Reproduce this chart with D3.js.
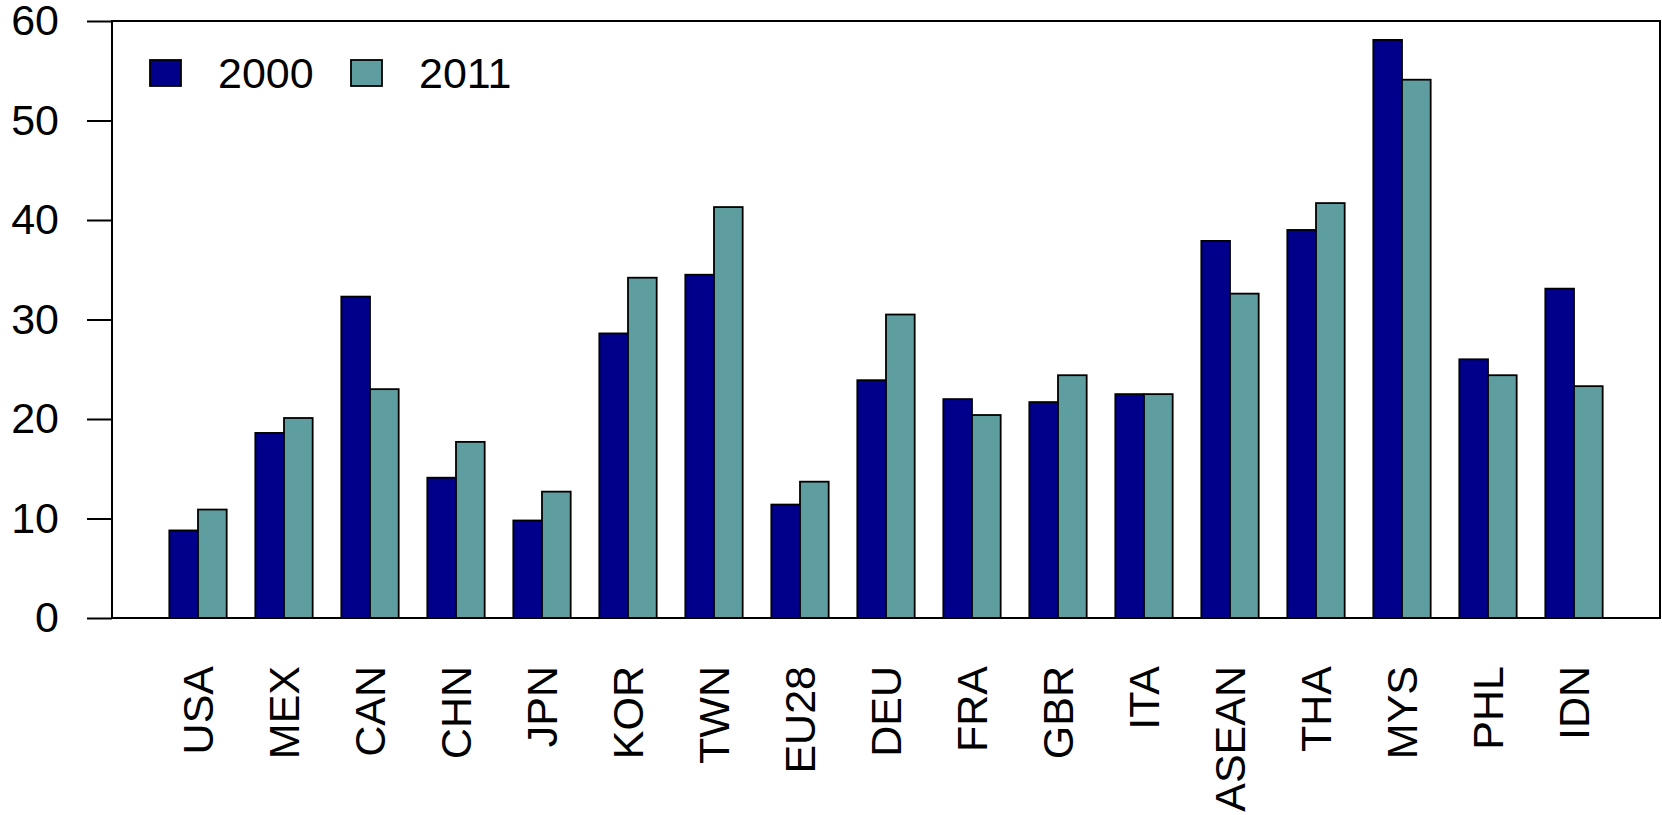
<!DOCTYPE html>
<html>
<head>
<meta charset="utf-8">
<title>bars 2000 vs 2011</title>
<script src="https://d3js.org/d3.v7.min.js"></script>
<style>
  body { margin: 0; background: #fff; }
  text { font-family: "Liberation Sans", Arial, sans-serif; fill: #000; }
</style>
</head>
<body>
<script>
// data
const countries = ["USA","MEX","CAN","CHN","JPN","KOR","TWN","EU28","DEU","FRA","GBR","ITA","ASEAN","THA","MYS","PHL","IDN"];
const years = ["2000","2011"];
const v2000 = [8.8,18.6,32.3,14.1,9.8,28.6,34.5,11.4,23.9,22.0,21.7,22.5,37.9,39.0,58.1,26.0,33.1];
const v2011 = [10.9,20.1,23.0,17.7,12.7,34.2,41.3,13.7,30.5,20.4,24.4,22.5,32.6,41.7,54.1,24.4,23.3];
const yTicks = [0,10,20,30,40,50,60];
const colors = ["#00008B","#5F9EA0"];

const W = 1662, H = 815;
const pLeft = 112, pRight = 1660, pTop = 21, pBottom = 618;
const fs = 43;

const svg = d3.select("body").append("svg")
    .attr("width", W).attr("height", H);

const x0 = d3.scaleBand().domain(countries).range([pLeft, pRight])
    .paddingInner(1/3).paddingOuter(2/3);
const x1 = d3.scaleBand().domain(years).range([0, x0.bandwidth()]);
const y = d3.scaleLinear().domain([0, 60]).range([pBottom, pTop]);

const rows = countries.map((c, i) => ({c: c, vals: [v2000[i], v2011[i]]}));

const g = svg.selectAll("g.grp").data(rows).enter().append("g")
    .attr("class", "grp")
    .attr("transform", d => "translate(" + x0(d.c) + ",0)");
g.selectAll("rect").data(d => d.vals.map((v, k) => ({yr: years[k], v: v, k: k})))
  .enter().append("rect")
    .attr("x", d => x1(d.yr))
    .attr("y", d => y(d.v))
    .attr("width", x1.bandwidth())
    .attr("height", d => y(0) - y(d.v))
    .attr("fill", d => colors[d.k])
    .attr("stroke", "#000")
    .attr("stroke-width", 1.8);

// frame
svg.append("rect")
    .attr("x", pLeft).attr("y", pTop)
    .attr("width", pRight - pLeft).attr("height", pBottom - pTop)
    .attr("fill", "none").attr("stroke", "#000").attr("stroke-width", 2);

// y axis
const yAxis = svg.append("g")
    .attr("transform", "translate(" + pLeft + ",0)")
    .call(d3.axisLeft(y).tickValues(yTicks).tickSize(25).tickSizeOuter(0).tickPadding(28));
yAxis.select(".domain").remove();
yAxis.selectAll("line").attr("stroke", "#000").attr("stroke-width", 2);
yAxis.selectAll("text").attr("font-size", fs).attr("font-family", null);

// country labels
svg.selectAll("text.cty").data(countries).enter().append("text")
    .attr("class", "cty")
    .attr("transform", d => "translate(" + (x0(d) + x0.bandwidth() / 2) + ",666) rotate(-90)")
    .attr("text-anchor", "end")
    .attr("dy", "0.35em")
    .attr("font-size", fs)
    .text(d => d);

// legend
const leg = svg.selectAll("g.leg").data(years).enter().append("g")
    .attr("class", "leg")
    .attr("transform", (d, i) => "translate(" + (150 + i * 201) + ",60)");
leg.append("rect")
    .attr("width", 31).attr("height", 26)
    .attr("fill", (d, i) => colors[i])
    .attr("stroke", "#000").attr("stroke-width", 1.8);
leg.append("text")
    .attr("x", 68).attr("y", 13).attr("dy", "0.35em")
    .attr("font-size", fs)
    .text(d => d);
</script>
</body>
</html>
